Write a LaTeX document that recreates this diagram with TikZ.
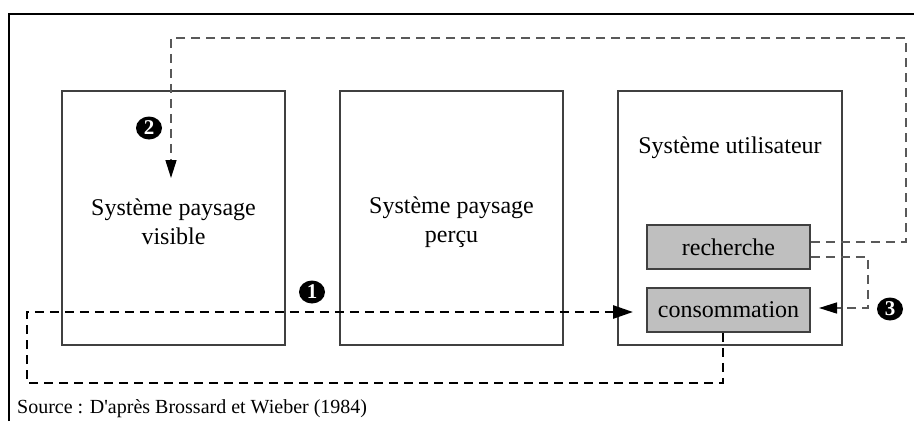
\documentclass[tikz,border=0pt]{standalone}
\usepackage{fontspec}
\setmainfont{Liberation Serif}
\usetikzlibrary{arrows.meta,calc,shapes.geometric}
\begin{document}
\begin{tikzpicture}[x=1pt,y=-1pt,
  sysbox/.style={draw=black!75,line width=1.6pt},
  subbox/.style={draw=black!75,line width=1.6pt,fill=black!25,minimum width=163pt,minimum height=44pt,inner sep=0pt,font=\fontsize{24}{29}\selectfont},
  lbl/.style={align=center,font=\fontsize{24}{29}\selectfont,inner sep=0pt},
  grayflow/.style={draw=black!65,line width=1.5pt,dash pattern=on 9pt off 6pt,-{Triangle[length=18pt,width=11pt,color=black]}},
  blackflow/.style={draw=black,line width=2.6pt,dash pattern=on 9pt off 6pt,-{Triangle[length=20pt,width=13pt]}},
  marker/.style={ellipse,fill=black,text=white,inner sep=0pt,minimum width=26pt,minimum height=23pt,font=\fontsize{21}{21}\selectfont\bfseries}
]
\useasboundingbox (0,0) rectangle (914,421);
\draw[line width=1.8pt] (9,421) -- (9,14) -- (914,14);

\draw[sysbox] (62,91) rectangle (285,345);
\draw[sysbox] (340,91) rectangle (563,345);
\draw[sysbox] (618,91) rectangle (842,345);

\node[lbl] (visible) at (173.5,222) {Système paysage\\visible};
\node[lbl] (percu) at (451.5,222) {Système paysage\\perçu};
\node[lbl,anchor=base] (util) at (730,153) {Système utilisateur};

\node[subbox] (rech) at (728.5,247) {recherche};
\node[subbox] (cons) at (728.5,310) {consommation};

% flow 1
\coordinate (c1a) at (723,383);
\coordinate (c1b) at (27,383);
\coordinate (c1c) at (27,312);
\coordinate (c1end) at (633,312);
\draw[blackflow] (cons.south -| 723,0) -- (c1a) -- (c1b) -- (c1c) -- (c1end);

% flow 2
\coordinate (c2a) at (906,242);
\coordinate (c2b) at (906,38);
\coordinate (c2c) at (171,38);
\coordinate (c2end) at (171,178);
\draw[grayflow] (rech.east |- 0,242) -- (c2a) -- (c2b) -- (c2c) -- (c2end);

% flow 3
\coordinate (c3a) at (868,257);
\coordinate (c3b) at (868,308);
\coordinate (c3end) at (819,308);
\draw[grayflow] (rech.east |- 0,257) -- (c3a) -- (c3b) -- (c3end);

\node[marker] (m1) at (312,292) {1};
\node[marker] (m2) at (149,128) {2};
\node[marker] (m3) at (890,309) {3};

\node[anchor=base west,inner sep=0pt,font=\fontsize{20}{24}\selectfont] (src) at (17,413) {Source : D\textquotesingle après Brossard et Wieber (1984)};
\end{tikzpicture}
\end{document}
